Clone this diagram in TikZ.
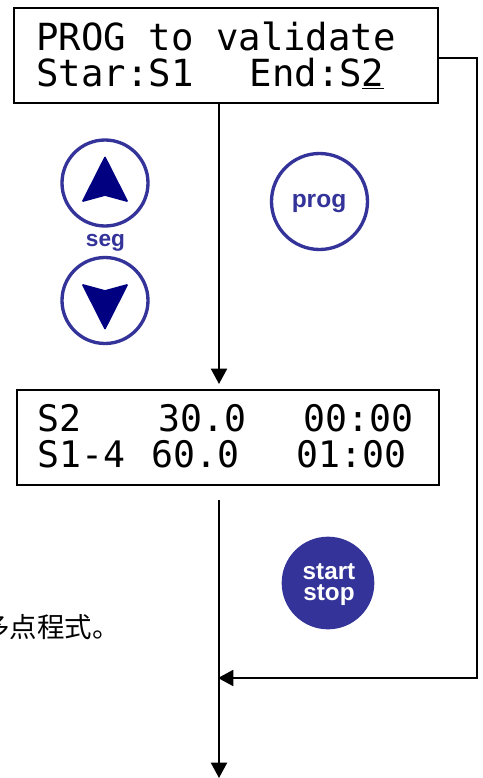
\documentclass[tikz,border=0pt]{standalone}
\usepackage{fontspec}
\usetikzlibrary{arrows.meta}
\setmainfont{Liberation Sans}
\newfontfamily\lcdfont{DejaVu Sans Mono}
\newfontfamily\cjkfont{Noto Sans CJK SC}
\definecolor{btn}{HTML}{333399}
\definecolor{tri}{HTML}{000080}
\tikzset{
  lcdbox/.style={draw=black,line width=1.5pt,fill=none,inner sep=0pt,minimum width=318pt,minimum height=71.25pt},
  lcdtext/.style={anchor=base west,inner sep=0pt,font=\lcdfont\fontsize{28pt}{28pt}\selectfont},
  lcdsmall/.style={lcdtext,font=\lcdfont\fontsize{27.4pt}{27.4pt}\selectfont},
  wire/.style={draw=black,line width=1.5pt},
  arrowed/.style={wire,-{Triangle[length=11.5pt,width=12pt]}},
  btnring/.style={circle,draw=btn,line width=2.5pt,fill=white,inner sep=0pt},
  btnfill/.style={circle,fill=btn,inner sep=0pt},
  btnlabel/.style={text=btn,font=\bfseries\fontsize{17pt}{17pt}\selectfont,inner sep=0pt},
  tritip/.style={fill=tri,draw=tri,line width=1.3pt,line join=round},
}
\begin{document}
\begin{tikzpicture}[x=0.75pt,y=-0.75pt]
\useasboundingbox (0,0) rectangle (482,778);
\clip (0,0) rectangle (482,778);
% displays
\node[lcdbox] (box1) at (226,55.5) {};
\node[lcdbox,minimum width=316.5pt] (box2) at (228,437.5) {};
\node[lcdtext] (l1a) at (36,50) {PROG to validate};
\node[lcdtext] (l1b) at (36,86) {Star:S1\hspace{42pt}End:S\underline{2}};
\node[lcdsmall] (l2a) at (37,431) {S2\hspace{58pt}30.0\hspace{42.5pt}00:00};
\node[lcdsmall] (l2b) at (37,467) {S1-4\hspace{20pt}60.0\hspace{42.5pt}01:00};
% buttons
\node[btnring,minimum size=64.5pt] (up) at (105,183) {};
\node[btnring,minimum size=64.5pt] (down) at (105,300.5) {};
\node[btnlabel] (seg) at (105.5,243) {seg};
\node[btnring,minimum size=72pt] (prog) at (319.5,201.5) {};
\node[btnlabel,font=\bfseries\fontsize{18.4pt}{18.4pt}\selectfont] (proglabel) at (319,203) {prog};
\node[btnfill,minimum size=69.5pt] (start) at (328,583) {};
\node[text=white,align=center,inner sep=0pt,font=\bfseries\fontsize{18.2pt}{16.2pt}\selectfont] (startlabel) at (329,584.5) {start\\stop};
\path[tritip] (105,157.5) -- (83,201) -- (105,195) -- (127,201) -- cycle;
\path[tritip] (105,328.5) -- (83,285) -- (105,291) -- (127,285) -- cycle;
% clipped sentence
\node[anchor=west,inner sep=0pt,font=\cjkfont\fontsize{20.6pt}{20.6pt}\selectfont] (note) at (-18,627) {多点程式。};
% connectors
\coordinate (trunk) at (219,500);
\coordinate (join) at (218,678);
\coordinate (foot) at (219,778);
\coordinate (loopa) at (477,58);
\coordinate (loopb) at (477,678);
\coordinate (abovebox) at (219,384);
\draw[arrowed] (box1.south -| trunk) -- (abovebox);
\draw[arrowed] (trunk) -- (foot);
\draw[arrowed] (box1.east |- loopa) -- (loopa) -- (loopb) -- (join);
\end{tikzpicture}
\end{document}
